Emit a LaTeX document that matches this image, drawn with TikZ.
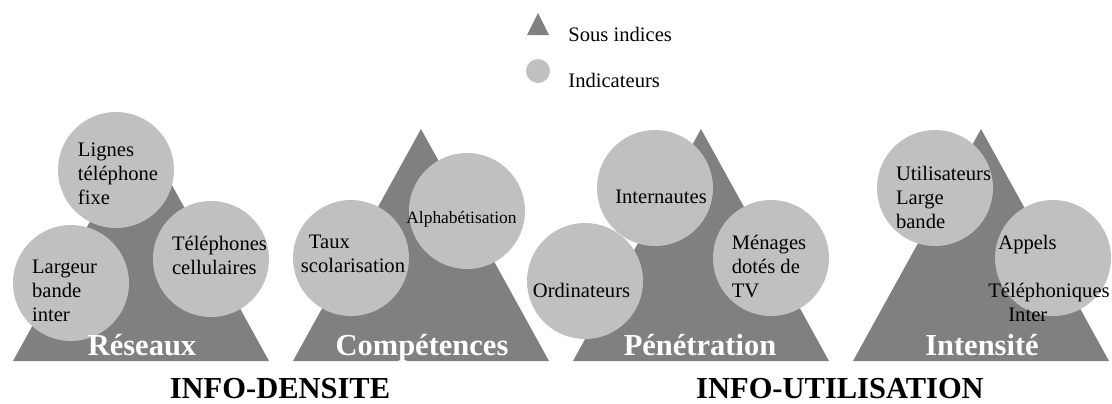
\documentclass[tikz,border=0pt]{standalone}
\usepackage{fontspec}
\setmainfont{Liberation Serif}
\definecolor{sousgris}{HTML}{808080}
\definecolor{indgris}{HTML}{C0C0C0}
\tikzstyle{tri}=[fill=sousgris]
\tikzstyle{ind}=[circle, fill=indgris, minimum size=58pt, inner sep=0pt]
\tikzstyle{txt}=[align=left, inner sep=0pt, font=\fontsize{10.3}{12}\selectfont]
\tikzstyle{sous}=[anchor=base, inner sep=0pt, text=white, font=\fontsize{15.25}{18}\selectfont\bfseries]
\tikzstyle{titre}=[anchor=base, inner sep=0pt, font=\fontsize{15.25}{18}\selectfont\bfseries]

\begin{document}
\begin{tikzpicture}[x=0.5pt, y=-0.5pt]
    \useasboundingbox (0,0) rectangle (1112,403);

    % legende
    \fill[tri] (538,13) -- (549,35) -- (527,35) -- cycle;
    \node (legind) [ind, minimum size=12pt] at (538,71) {};
    \node (legsous) [txt, anchor=base west] at (568,41) {Sous indices};
    \node (legtxt)  [txt, anchor=base west] at (568,87) {Indicateurs};

    % sous indices
    \foreach \x in {141, 421, 701, 981}
        \fill[tri] (\x,129) -- (\x+128,361) -- (\x-128,361) -- cycle;

    % indicateurs
    \node (lignes)   [ind] at (116,170)  {};
    \node (largeur)  [ind] at (71,283)   {};
    \node (cellul)   [ind] at (211,259)  {};
    \node (taux)     [ind] at (351,258)  {};
    \node (alpha)    [ind] at (467,211)  {};
    \node (internet) [ind] at (655,188)  {};
    \node (ordi)     [ind] at (585,281)  {};
    \node (menages)  [ind] at (771,258)  {};
    \node (util)     [ind] at (935,188)  {};
    \node (appels)   [ind] at (1053,258) {};

    \node (lignes-t)   [txt] at ([shift={(2,4)}]lignes.center)     {Lignes\\téléphone\\fixe};
    \node (largeur-t)  [txt] at ([shift={(-6.5,8)}]largeur.center) {Largeur\\bande\\inter};
    \node (cellul-t)   [txt] at ([shift={(8.5,-3.5)}]cellul.center) {Téléphones\\cellulaires};
    \node (taux-t)     [txt] at ([shift={(2,-4)}]taux.center)      {\hspace*{4pt}Taux\\scolarisation};
    \node (alpha-t)    [txt, font=\fontsize{8.7}{10}\selectfont] at ([shift={(-5.5,8)}]alpha.center) {Alphabétisation};
    \node (internet-t) [txt] at ([shift={(6,9)}]internet.center)   {Internautes};
    \node (ordi-t)     [txt] at ([shift={(-3.5,9)}]ordi.center)    {Ordinateurs};
    \node (menages-t)  [txt] at ([shift={(-2,8)}]menages.center)   {Ménages\\dotés de\\TV};
    \node (util-t)     [txt] at ([shift={(8.5,9)}]util.center)     {Utilisateurs\\Large\\bande};
    \node (appels-t)   [txt] at ([shift={(-4,20)}]appels.center)   {\hspace*{5pt}Appels\\[12pt]Téléphoniques\\\hspace*{10pt}Inter};

    % noms des sous indices
    \foreach \x/\nom/\lbl in {142/reseaux/Réseaux, 422/competences/Compétences,
                              700/penetration/Pénétration, 982/intensite/Intensité}
        \node (\nom) [sous] at (\x,355) {\lbl};

    \node (densite) [titre] at (280,398) {INFO-DENSITE};
    \node (utilis)  [titre] at (840,398) {INFO-UTILISATION};
\end{tikzpicture}
\end{document}
